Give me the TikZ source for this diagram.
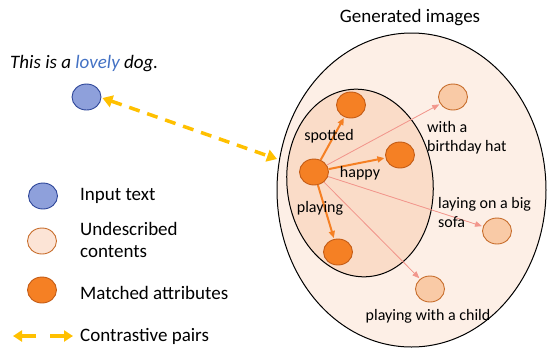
\documentclass[tikz,border=0pt]{standalone}
\usepackage{fontspec}
\setmainfont{Carlito}
\usetikzlibrary{arrows.meta,shapes.geometric}
\definecolor{outerfill}{RGB}{253,239,230}
\definecolor{innerfill}{RGB}{250,220,200}
\definecolor{matchfill}{RGB}{245,128,36}
\definecolor{matchdraw}{RGB}{196,92,22}
\definecolor{undfill}{RGB}{249,202,166}
\definecolor{undlegfill}{RGB}{252,228,214}
\definecolor{unddraw}{RGB}{200,110,45}
\definecolor{thinarrow}{RGB}{242,150,140}
\definecolor{bluefill}{RGB}{142,160,219}
\definecolor{bluedraw}{RGB}{46,70,153}
\definecolor{gold}{RGB}{255,192,0}
\definecolor{lovelyblue}{RGB}{68,114,196}
\tikzset{
  dot/.style={ellipse,minimum width=29pt,minimum height=26pt,inner sep=0pt,line width=0.9pt},
  matched/.style={dot,fill=matchfill,draw=matchdraw},
  undesc/.style={dot,fill=undfill,draw=unddraw},
  inputdot/.style={dot,fill=bluefill,draw=bluedraw},
  lbl/.style={font=\fontsize{16}{19}\selectfont,inner sep=0pt},
  leg/.style={font=\fontsize{19}{22}\selectfont,inner sep=0pt,anchor=west,align=left},
  strong/.style={draw=matchfill,line width=2pt,-{Triangle[length=7pt,width=6pt]},shorten >=1pt},
  weak/.style={draw=thinarrow,line width=0.8pt,-{Triangle[length=7pt,width=5.5pt]},fill=thinarrow,shorten >=1pt},
  pair/.style={draw=gold,line width=3.5pt,{Triangle[length=10pt,width=12pt]}-{Triangle[length=10pt,width=12pt]}}
}
\begin{document}
\begin{tikzpicture}[x=1pt,y=-1pt]
\useasboundingbox (0,0) rectangle (547,349);
% ellipses
\draw[fill=outerfill,line width=1pt] (411.5,190) ellipse [x radius=134.5, y radius=157];
\draw[fill=innerfill,line width=1pt,rotate around={6:(360,183)}] (360,183) ellipse [x radius=73, y radius=94];
\node[font=\fontsize{19}{22}\selectfont] (title) at (410,18) {Generated images};
% input text
\node[font=\fontsize{19}{22}\selectfont\itshape,anchor=west,inner sep=0pt] (sent) at (10,64) {This is a \textcolor{lovelyblue}{lovely} dog.};
\node[inputdot] (in) at (86.5,97) {};
\coordinate (gen) at (277,159);
\draw[pair,dash pattern=on 11pt off 8pt] (in.east) ++(1,1) -- (gen);
% matched
\node[matched] (src) at (314,172) {};
\node[matched] (sp) at (351,105) {};
\node[matched] (ha) at (400,155) {};
\node[matched] (pl) at (338,252) {};
% undescribed
\node[undesc] (bh) at (453,97) {};
\node[undesc] (so) at (497,231) {};
\node[undesc] (ch) at (430,289) {};
% arrows
\draw[weak] (src) -- (bh);
\draw[weak] (src) -- (so);
\draw[weak] (src) -- (ch);
\draw[strong] (src) -- (sp);
\draw[strong] (src) -- (ha);
\draw[strong] (src) -- (pl);
% labels
\node[lbl] (lsp) at (329,136) {spotted};
\node[lbl] (lha) at (360,173) {happy};
\node[lbl] (lpl) at (320,208) {playing};
\node[lbl,anchor=west,align=left] (lbh) at (427,138) {with a\\birthday hat};
\node[lbl,anchor=west,align=left] (lso) at (438,212) {laying on a big\\sofa};
\node[lbl] (lch) at (428,316) {playing with a child};
% legend
\node[inputdot] (l1) at (43,196) {};
\node[dot,fill=undlegfill,draw=unddraw] (l2) at (42,241) {};
\node[matched] (l3) at (42,290) {};
\node[leg] (t1) at (80,196) {Input text};
\node[leg] (t2) at (80,240) {Undescribed\\contents};
\node[leg] (t3) at (80,293) {Matched attributes};
\node[leg] (t4) at (80,336) {Contrastive pairs};
\coordinate (a1s) at (36,336);
\coordinate (a1e) at (13,336);
\coordinate (a2s) at (50,336);
\coordinate (a2e) at (73,336);
\draw[draw=gold,line width=3.5pt,-{Triangle[length=9pt,width=11pt]}] (a1s) -- (a1e);
\draw[draw=gold,line width=3.5pt,-{Triangle[length=9pt,width=11pt]}] (a2s) -- (a2e);
\end{tikzpicture}
\end{document}
